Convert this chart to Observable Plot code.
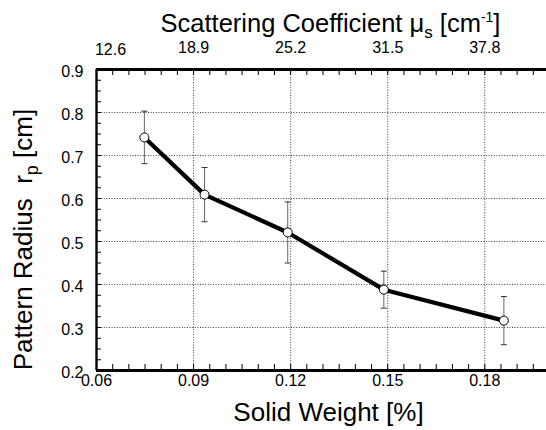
<!DOCTYPE html>
<html><head><meta charset="utf-8">
<script src="https://cdn.jsdelivr.net/npm/d3@7"></script>
<script src="https://cdn.jsdelivr.net/npm/@observablehq/plot@0.6"></script>
<style>
html,body{margin:0;padding:0;background:#fff;overflow:hidden}
#chart{width:546px;height:430px;overflow:hidden;position:relative}
#chart svg{display:block}
</style></head><body><div id="chart"></div>
<script>
// data
const solidWeight   = [0.0748, 0.0934, 0.1191, 0.1488, 0.1859];
const patternRadius = [0.742, 0.609, 0.521, 0.388, 0.316];
const radiusError   = [0.061, 0.063, 0.071, 0.043, 0.056];

const xTicks        = [0.06, 0.09, 0.12, 0.15, 0.18];
const xTickLabels   = ["0.06", "0.09", "0.12", "0.15", "0.18"];
const topTickLabels = ["12.6", "18.9", "25.2", "31.5", "37.8"];
const yTicks        = [0.2, 0.3, 0.4, 0.5, 0.6, 0.7, 0.8, 0.9];
const yTickLabels   = ["0.2", "0.3", "0.4", "0.5", "0.6", "0.7", "0.8", "0.9"];
const xMinor = d3.range(0.065, 0.2, 0.005);
const yMinor = d3.range(0.225, 0.9, 0.025);

const rows = solidWeight.map((w, i) => ({w, r: patternRadius[i], e: radiusError[i]}));

const capSymbol = {draw(ctx, size) { const w = Math.sqrt(size / Math.PI); ctx.moveTo(-w, 0); ctx.lineTo(w, 0); }};
const grid = {stroke: "#000", strokeOpacity: 0.75, strokeDasharray: "1,1.6", strokeWidth: 1};
const font = "'Liberation Sans', Arial, Helvetica, sans-serif";
const yMin = yTicks[0], yMax = yTicks[yTicks.length - 1], xMin = xTicks[0];

const chart = Plot.plot({
  width: 546, height: 430,
  marginLeft: 96, marginRight: 0, marginTop: 69, marginBottom: 60,
  x: {domain: [0.06, 0.2], range: [96, 549], axis: null},
  y: {domain: [0.2, 0.9], axis: null},
  style: {fontFamily: font, fontSize: "16px", color: "#000", background: "#fff", overflow: "hidden"},
  marks: [
    Plot.gridX(xTicks.slice(1), grid),
    Plot.gridY(yTicks.slice(1, -1), grid),
    Plot.ruleX(xMinor, {x: d => d, y1: yMin, y2: yMin, insetTop: -6, stroke: "#000", strokeWidth: 1}),
    Plot.ruleX(xMinor, {x: d => d, y1: yMax, y2: yMax, insetBottom: -6, stroke: "#000", strokeWidth: 1}),
    Plot.ruleY(yMinor, {y: d => d, x1: xMin, x2: xMin, insetRight: -5, stroke: "#000", strokeWidth: 1}),
    Plot.ruleY([0.2, 0.9], {stroke: "#000", strokeWidth: 2.8}),
    Plot.ruleX([0.06], {stroke: "#000", strokeWidth: 2.4}),
    Plot.text(xTicks, {x: d => d, text: (d, i) => xTickLabels[i], frameAnchor: "bottom", dy: 15, fill: "#000", fontSize: 16}),
    Plot.text(xTicks.slice(1), {x: d => d, text: (d, i) => topTickLabels[i + 1], frameAnchor: "top", dy: -28, fill: "#000", fontSize: 16}),
    Plot.text(xTicks.slice(0, 1), {x: d => d, text: () => topTickLabels[0], frameAnchor: "top", dy: -26, dx: 14, fill: "#000", fontSize: 16}),
    Plot.text(yTicks, {y: d => d, text: (d, i) => yTickLabels[i], frameAnchor: "left", textAnchor: "end", dx: -13, dy: 2, fill: "#000", fontSize: 16}),
    Plot.ruleX(rows, {x: "w", y1: d => d.r - d.e, y2: d => d.r + d.e, stroke: "#666", strokeWidth: 1}),
    Plot.dot(rows, {x: "w", y: d => d.r + d.e, symbol: capSymbol, r: 3, stroke: "#333", strokeWidth: 1}),
    Plot.dot(rows, {x: "w", y: d => d.r - d.e, symbol: capSymbol, r: 3, stroke: "#333", strokeWidth: 1}),
    Plot.line(rows, {x: "w", y: "r", stroke: "#000", strokeWidth: 4.2, strokeLinejoin: "round"}),
    Plot.dot(rows, {x: "w", y: "r", r: 4.5, fill: "#fff", stroke: "#000", strokeWidth: 1})
  ]
});

document.getElementById("chart").appendChild(chart);

const sx = chart.scale("x"), sy = chart.scale("y");
const cx = (sx.range[0] + sx.range[1]) / 2;
const cy = (sy.range[0] + sy.range[1]) / 2;
const svg = d3.select(chart);

const t1 = svg.append("text").attr("x", cx + 8).attr("y", 32).attr("text-anchor", "middle")
  .attr("font-family", font).attr("font-size", 25.5).attr("fill", "#000");
t1.append("tspan").text("Scattering Coefficient \u03bc");
t1.append("tspan").attr("font-size", 17).attr("dy", 6).text("s");
t1.append("tspan").attr("dy", -6).text(" [cm");
t1.append("tspan").attr("font-size", 14).attr("dy", -10).text("-1");
t1.append("tspan").attr("dy", 10).text("]");

svg.append("text").attr("x", cx + 6).attr("y", 421).attr("text-anchor", "middle")
  .attr("font-family", font).attr("font-size", 26).attr("fill", "#000")
  .text("Solid Weight [%]");

const t3 = svg.append("text").attr("transform", `translate(32,${cy + 20}) rotate(-90)`).attr("text-anchor", "middle")
  .attr("font-family", font).attr("font-size", 26).attr("fill", "#000");
t3.append("tspan").text("Pattern Radius  r");
t3.append("tspan").attr("font-size", 18).attr("dy", 6).text("p");
t3.append("tspan").attr("dy", -6).text(" [cm]");
</script></body></html>
